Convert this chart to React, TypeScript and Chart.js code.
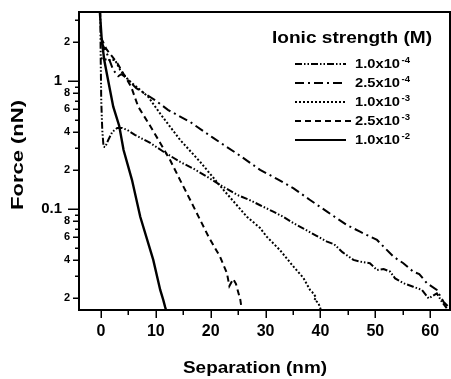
import { useEffect, useRef } from "react";
import { Chart, registerables } from "chart.js";

Chart.register(...registerables);

// ---- Data ----
const sep_1e4 = [-0.13, -0.04, 0.05, 0.24, 0.47, 0.78, 1.33, 2.06, 2.97, 3.83, 4.8, 6.25, 8.98, 11.4, 14.45, 17.0, 19.3, 22.3, 24.8, 27.0, 29.0, 31.4, 33.2, 35.0, 37.0, 39.2, 41.2, 42.5, 44.0, 46.0, 47.6, 49.0, 50.3, 51.5, 52.7, 53.6, 55.1, 56.9, 58.5, 59.7, 61.2, 62.1, 63.0];
const force_1e4 = [3.6, 1.46, 0.71, 0.414, 0.307, 0.305, 0.346, 0.4, 0.43, 0.43, 0.414, 0.378, 0.328, 0.28, 0.233, 0.205, 0.179, 0.149, 0.129, 0.118, 0.107, 0.0953, 0.087, 0.0778, 0.07, 0.062, 0.0556, 0.053, 0.046, 0.04, 0.0385, 0.0377, 0.0334, 0.034, 0.0324, 0.0287, 0.0263, 0.0247, 0.0233, 0.02, 0.0219, 0.0189, 0.0168];

const sep_25e4 = [0.05, 0.97, 2.24, 3.15, 3.7, 4.24, 6.43, 9.84, 12.26, 16.27, 20.46, 22.95, 25.4, 29.0, 32.06, 35.1, 38.1, 41.2, 44.8, 47.2, 50.3, 53.3, 55.1, 56.9, 58.0, 59.4, 61.2, 62.4, 63.3];
const force_25e4 = [2.02, 1.69, 1.22, 1.09, 1.13, 1.09, 0.88, 0.71, 0.593, 0.478, 0.359, 0.305, 0.26, 0.202, 0.172, 0.145, 0.1175, 0.0953, 0.075, 0.0665, 0.0573, 0.0424, 0.0377, 0.0324, 0.031, 0.0263, 0.0233, 0.0189, 0.0172];

const sep_1e3 = [-0.04, 1.15, 2.55, 3.5, 4.97, 8.6, 10.98, 14.44, 18.09, 22.33, 26.6, 29.0, 30.2, 32.6, 35.1, 36.9, 38.1, 38.5, 39.2, 38.9, 39.6, 39.96, 40.1];
const force_1e3 = [1.51, 1.46, 1.46, 1.22, 1.02, 0.754, 0.542, 0.346, 0.233, 0.141, 0.087, 0.071, 0.0608, 0.0478, 0.0354, 0.0289, 0.0233, 0.0224, 0.0204, 0.0195, 0.0185, 0.0168, 0.016];

const sep_25e3 = [0.05, 0.97, 2.97, 5.52, 6.79, 8.98, 10.8, 12.6, 14.4, 16.27, 19.6, 21.7, 22.95, 23.4, 24.1, 24.6, 25.0, 25.4, 25.6];
const force_25e3 = [2.17, 1.78, 1.38, 0.898, 0.63, 0.445, 0.328, 0.241, 0.169, 0.1175, 0.0608, 0.0424, 0.0316, 0.025, 0.0284, 0.026, 0.0225, 0.0195, 0.0169];

const sep_1e2 = [-0.3, 0.15, 0.6, 1.33, 2.24, 3.33, 4.12, 5.65, 7.16, 9.53, 10.8, 11.35, 11.7, 11.9];
const force_1e2 = [4.0, 2.09, 1.46, 1.0, 0.63, 0.445, 0.289, 0.169, 0.087, 0.04, 0.0233, 0.0195, 0.0171, 0.016];

const legendMantissa = ["1.0x10", "2.5x10", "1.0x10", "2.5x10", "1.0x10"];
const legendExponent = ["-4", "-4", "-3", "-3", "-2"];
const legendTitle = "Ionic strength (M)";

const xTitle = "Separation (nm)";
const yTitle = "Force (nN)";

const xTickValues = [0, 5, 10, 15, 20, 25, 30, 35, 40, 45, 50, 55, 60];
const xLabeledValues = [0, 10, 20, 30, 40, 50, 60];

const yTickValues = [0.02, 0.03, 0.04, 0.05, 0.06, 0.07, 0.08, 0.09, 0.1, 0.2, 0.3, 0.4, 0.5, 0.6, 0.7, 0.8, 0.9, 1, 2, 3];
const yMinorLabeledValues = [0.02, 0.04, 0.06, 0.08, 0.2, 0.4, 0.6, 0.8, 2];
const yMinorLabelTexts = ["2", "4", "6", "8", "2", "4", "6", "8", "2"];
const yDecadeValues = [0.1, 1];
const yDecadeLabelTexts = ["0.1", "1"];

// ---- Styles ----
const FONT = '"Liberation Sans", Arial, Helvetica, sans-serif';
const dashes: number[][] = [
  [7, 2, 1.5, 2, 1.5, 2],
  [9, 4, 2, 4],
  [2, 2],
  [6, 4],
  [],
];

const seriesSep = [sep_1e4, sep_25e4, sep_1e3, sep_25e3, sep_1e2];
const seriesForce = [force_1e4, force_25e4, force_1e3, force_25e3, force_1e2];

const Y_MIN = 0.01625;
const Y_MAX = 3.46;

function fitText(
  ctx: CanvasRenderingContext2D,
  text: string,
  x: number,
  y: number,
  font: string,
  targetW: number,
  align: CanvasTextAlign,
  rotate = 0
) {
  ctx.save();
  ctx.font = font;
  const w = ctx.measureText(text).width;
  const sx = targetW / w;
  ctx.translate(x, y);
  if (rotate) ctx.rotate(rotate);
  ctx.scale(sx, 1);
  ctx.textAlign = align;
  ctx.textBaseline = "alphabetic";
  ctx.fillStyle = "#000";
  ctx.fillText(text, 0, 0);
  ctx.restore();
}

const decorPlugin = {
  id: "decor",
  afterDraw(chart: any) {
    const ctx: CanvasRenderingContext2D = chart.ctx;
    const { left, top, right, bottom } = chart.chartArea;
    const xs = chart.scales.x;
    const ys = chart.scales.y;
    ctx.save();
    // frame
    ctx.strokeStyle = "#000";
    ctx.lineWidth = 2;
    ctx.setLineDash([]);
    ctx.strokeRect(left, top, right - left, bottom - top);
    // y ticks
    ctx.lineWidth = 1.5;
    for (const v of yTickValues) {
      const py = Math.round(ys.getPixelForValue(v)) + 0.25;
      const len = yDecadeValues.includes(v) ? 11 : yMinorLabeledValues.includes(v) ? 6 : 4;
      ctx.beginPath();
      ctx.moveTo(left - len, py);
      ctx.lineTo(left, py);
      ctx.stroke();
    }
    // x ticks
    for (const v of xTickValues) {
      const px = Math.round(xs.getPixelForValue(v)) + 0.25;
      const len = xLabeledValues.includes(v) ? 8 : 5;
      ctx.beginPath();
      ctx.moveTo(px, bottom);
      ctx.lineTo(px, bottom + len);
      ctx.stroke();
    }
    // axis titles
    fitText(ctx, xTitle, 255, 373, `bold 16px ${FONT}`, 144, "center");
    fitText(ctx, yTitle, 23, 155, `bold 16px ${FONT}`, 110, "center", -Math.PI / 2);
    // legend
    fitText(ctx, legendTitle, 272, 43, `bold 16px ${FONT}`, 160, "left");
    const rowBase = [68, 87, 106, 125, 144];
    for (let i = 0; i < 5; i++) {
      const by = rowBase[i];
      ctx.save();
      ctx.strokeStyle = "#000";
      ctx.lineWidth = 2;
      ctx.setLineDash(dashes[i]);
      ctx.beginPath();
      ctx.moveTo(295, by - 4);
      ctx.lineTo(i === 3 ? 351 : 346, by - 4);
      ctx.stroke();
      ctx.restore();
      fitText(ctx, legendMantissa[i], 355, by, `bold 12.5px ${FONT}`, 45, "left");
      fitText(ctx, legendExponent[i], 401.5, by - 5, `bold 9px ${FONT}`, 8.5, "left");
    }
    ctx.restore();
  },
};

export default function App() {
  const ref = useRef<HTMLCanvasElement | null>(null);
  useEffect(() => {
    document.body.style.margin = "0";
    const canvas = ref.current;
    if (!canvas) return;
    Chart.defaults.color = "#000";
    const datasets = seriesSep.map((xs, i) => ({
      label: legendMantissa[i] + legendExponent[i],
      data: xs.map((x, j) => ({ x, y: seriesForce[i][j] })),
      borderColor: "#000",
      backgroundColor: "#000",
      borderWidth: i === 4 ? 2.4 : 2,
      borderDash: dashes[i],
      pointRadius: 0,
      tension: 0,
      fill: false,
      yAxisID: "y",
    }));
    const chart = new Chart(canvas, {
      type: "line",
      data: { datasets },
      options: {
        animation: false,
        responsive: false,
        devicePixelRatio: 1,
        layout: { padding: { left: 0, top: 12, right: 1, bottom: 0 } },
        plugins: { legend: { display: false }, tooltip: { enabled: false } },
        scales: {
          x: {
            type: "linear",
            min: -4,
            max: 63.6,
            border: { display: false },
            grid: { drawOnChartArea: false, drawTicks: true, tickLength: 8, color: "rgba(0,0,0,0)" },
            afterBuildTicks: (s: any) => {
              s.ticks = xTickValues.map((v) => ({ value: v }));
            },
            afterFit: (s: any) => {
              s.height = 69;
            },
            ticks: {
              padding: 4,
              maxRotation: 0,
              autoSkip: false,
              color: "#000",
              font: { family: FONT, weight: "bold", size: 16 },
              callback: (v: any) => (xLabeledValues.includes(v) ? String(v) : ""),
            },
          },
          // minor-labelled axis, nearest to the plot
          y: {
            type: "logarithmic",
            position: "left",
            weight: 0,
            min: Y_MIN,
            max: Y_MAX,
            border: { display: false },
            grid: { drawOnChartArea: false, drawTicks: true, tickLength: 6, color: "rgba(0,0,0,0)" },
            afterBuildTicks: (s: any) => {
              s.ticks = yTickValues.map((v) => ({ value: v }));
            },
            afterFit: (s: any) => {
              s.width = 17;
            },
            ticks: {
              padding: 3,
              autoSkip: false,
              color: "#000",
              font: { family: FONT, weight: "bold", size: 11 },
              callback: (v: any) => {
                const i = yMinorLabeledValues.indexOf(v);
                return i >= 0 ? yMinorLabelTexts[i] : "";
              },
            },
          },
          // decade labels (0.1, 1), further out
          yDecade: {
            type: "logarithmic",
            position: "left",
            weight: 1,
            min: Y_MIN,
            max: Y_MAX,
            border: { display: false },
            grid: { display: false, drawOnChartArea: false, drawTicks: false },
            afterBuildTicks: (s: any) => {
              s.ticks = yDecadeValues.map((v) => ({ value: v }));
            },
            afterFit: (s: any) => {
              s.width = 62;
            },
            ticks: {
              padding: 0,
              autoSkip: false,
              color: "#000",
              font: { family: FONT, weight: "bold", size: 15 },
              callback: (v: any) => {
                const i = yDecadeValues.indexOf(v);
                return i >= 0 ? yDecadeLabelTexts[i] : "";
              },
            },
          },
        },
      } as any,
      plugins: [decorPlugin],
    });
    return () => chart.destroy();
  }, []);
  return (
    <div style={{ width: 451, height: 379, background: "#fff" }}>
      <canvas ref={ref} width={451} height={379} style={{ display: "block" }} />
    </div>
  );
}
